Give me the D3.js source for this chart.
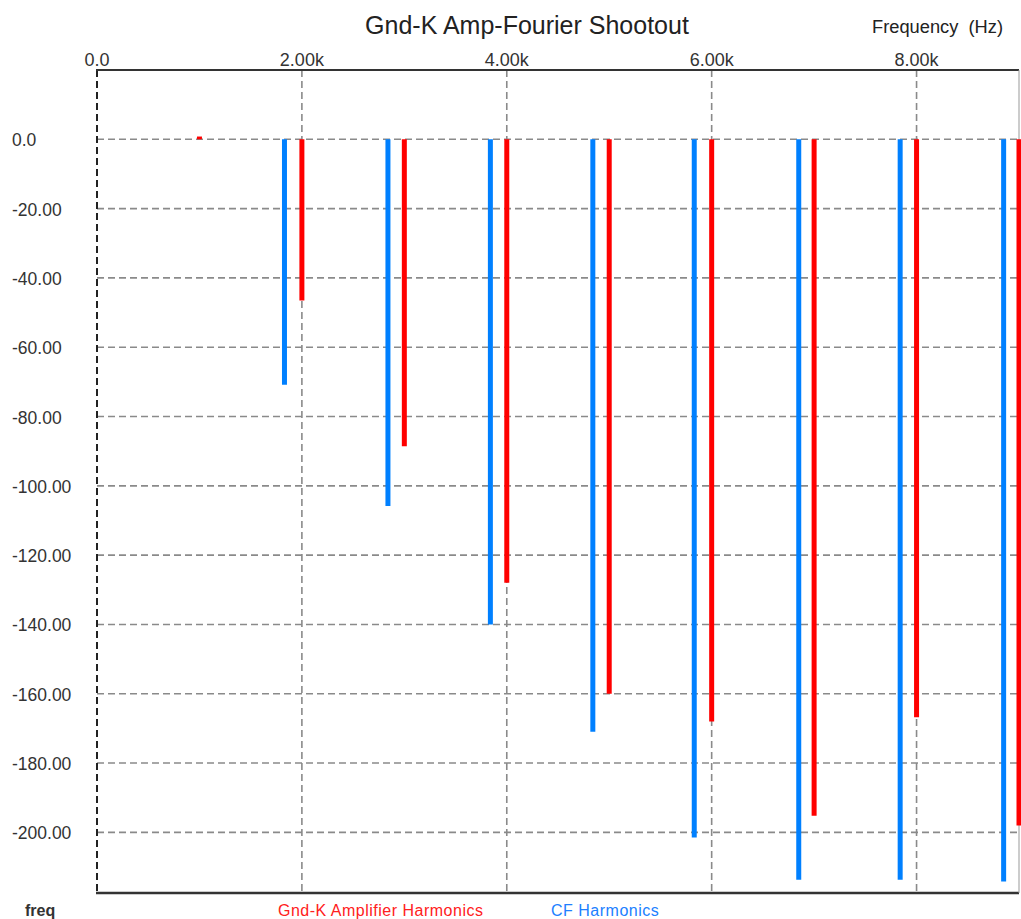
<!DOCTYPE html>
<html>
<head>
<meta charset="utf-8">
<script src="https://cdn.jsdelivr.net/npm/d3@7/dist/d3.min.js"></script>
<style>
    body { margin: 0; background: #fff; }
    text { font-family: "Liberation Sans", Arial, sans-serif; }
</style>
</head>
<body>
<svg id="grafico"></svg>
<script>
// harmonicos do amplificador Gnd-K (Hz, dB)
const freqGndK = [1000, 2000, 3000, 4000, 5000, 6000, 7000, 8000, 9000];
const dbGndK = [0.8, -46.5, -88.6, -128, -160, -168, -195.2, -166.8, -198];

// harmonicos CF (Hz, dB)
const freqCF = [1830, 2840, 3840, 4840, 5830, 6850, 7840, 8850];
const dbCF = [-70.8, -105.8, -140, -171, -201.5, -213.7, -213.7, -214.2];

const ticksX = [0, 2000, 4000, 6000, 8000];
const rotulosX = ['0.0', '2.00k', '4.00k', '6.00k', '8.00k'];
const ticksY = [0, -20, -40, -60, -80, -100, -120, -140, -160, -180, -200];
const rotulosY = ['0.0', '-20.00', '-40.00', '-60.00', '-80.00', '-100.00', '-120.00',
    '-140.00', '-160.00', '-180.00', '-200.00'];

const largura = 1021, altura = 919;
const margem = { esquerda: 97, direita: 2, superior: 70, inferior: 26 };

const svg = d3.select('#grafico')
    .attr('width', largura)
    .attr('height', altura);

const fnX = d3.scaleLinear()
    .domain([0, 9000])
    .range([margem.esquerda, largura - margem.direita]);

const fnY = d3.scaleLinear()
    .domain([20, -217.5])
    .range([margem.superior, altura - margem.inferior]);

const x0 = fnX.range()[0], x1 = fnX.range()[1];
const y0 = fnY.range()[0], y1 = fnY.range()[1];

// grade
svg.append('g')
    .selectAll('line')
    .data(ticksY)
    .enter()
    .append('line')
    .attr('x1', x0).attr('x2', x1)
    .attr('y1', d => fnY(d)).attr('y2', d => fnY(d))
    .attr('stroke', '#8a8a8a')
    .attr('stroke-width', 1.6)
    .attr('stroke-dasharray', '7,4');

svg.append('g')
    .selectAll('line')
    .data(ticksX.slice(1))
    .enter()
    .append('line')
    .attr('x1', d => fnX(d)).attr('x2', d => fnX(d))
    .attr('y1', y0).attr('y2', y1)
    .attr('stroke', '#8a8a8a')
    .attr('stroke-width', 1.6)
    .attr('stroke-dasharray', '7,4');

// bordas
svg.append('line')
    .attr('x1', x0).attr('x2', x0).attr('y1', y0).attr('y2', y1)
    .attr('stroke', '#222').attr('stroke-width', 2)
    .attr('stroke-dasharray', '7,4');
svg.append('line')
    .attr('x1', x0 - 1).attr('x2', x1).attr('y1', y0).attr('y2', y0)
    .attr('stroke', '#333').attr('stroke-width', 2);
svg.append('line')
    .attr('x1', x0 - 1).attr('x2', x1).attr('y1', y1).attr('y2', y1)
    .attr('stroke', '#333').attr('stroke-width', 2.5);
svg.append('line')
    .attr('x1', x1).attr('x2', x1).attr('y1', y0).attr('y2', y1)
    .attr('stroke', '#999').attr('stroke-width', 1);

// barras
function barras(freqs, dbs, cor) {
    svg.append('g')
        .selectAll('line')
        .data(freqs.map((f, i) => ({ f: f, db: dbs[i] })))
        .enter()
        .append('line')
        .attr('x1', d => fnX(d.f)).attr('x2', d => fnX(d.f))
        .attr('y1', fnY(0)).attr('y2', d => fnY(d.db))
        .attr('stroke', cor)
        .attr('stroke-width', 5);
}
barras(freqCF, dbCF, '#0080ff');
barras(freqGndK, dbGndK, '#ff0000');

// rotulos eixo Y
svg.append('g')
    .selectAll('text')
    .data(ticksY)
    .enter()
    .append('text')
    .attr('x', 12)
    .attr('y', d => fnY(d) + 7)
    .attr('font-size', 17.5)
    .attr('fill', '#333')
    .text((d, i) => rotulosY[i]);

// rotulos eixo X (no topo)
svg.append('g')
    .selectAll('text')
    .data(ticksX)
    .enter()
    .append('text')
    .attr('x', d => fnX(d))
    .attr('y', 66)
    .attr('text-anchor', 'middle')
    .attr('font-size', 18)
    .attr('fill', '#333')
    .text((d, i) => rotulosX[i]);

svg.append('text')
    .attr('x', 527).attr('y', 34)
    .attr('text-anchor', 'middle')
    .attr('font-size', 25)
    .attr('fill', '#222')
    .text('Gnd-K Amp-Fourier Shootout');

svg.append('text')
    .attr('x', 872).attr('y', 33)
    .attr('font-size', 18.3)
    .attr('fill', '#222')
    .attr('xml:space', 'preserve')
    .style('white-space', 'pre')
    .text('Frequency  (Hz)');

// legenda
svg.append('text')
    .attr('x', 25).attr('y', 916)
    .attr('font-size', 16)
    .attr('font-weight', 'bold')
    .attr('fill', '#333')
    .text('freq');
svg.append('text')
    .attr('x', 278).attr('y', 916)
    .attr('font-size', 16)
    .attr('letter-spacing', 0.5)
    .attr('fill', '#ff2020')
    .text('Gnd-K Amplifier Harmonics');
svg.append('text')
    .attr('x', 551).attr('y', 916)
    .attr('font-size', 16)
    .attr('letter-spacing', 0.5)
    .attr('fill', '#2080ff')
    .text('CF Harmonics');
</script>
</body>
</html>
